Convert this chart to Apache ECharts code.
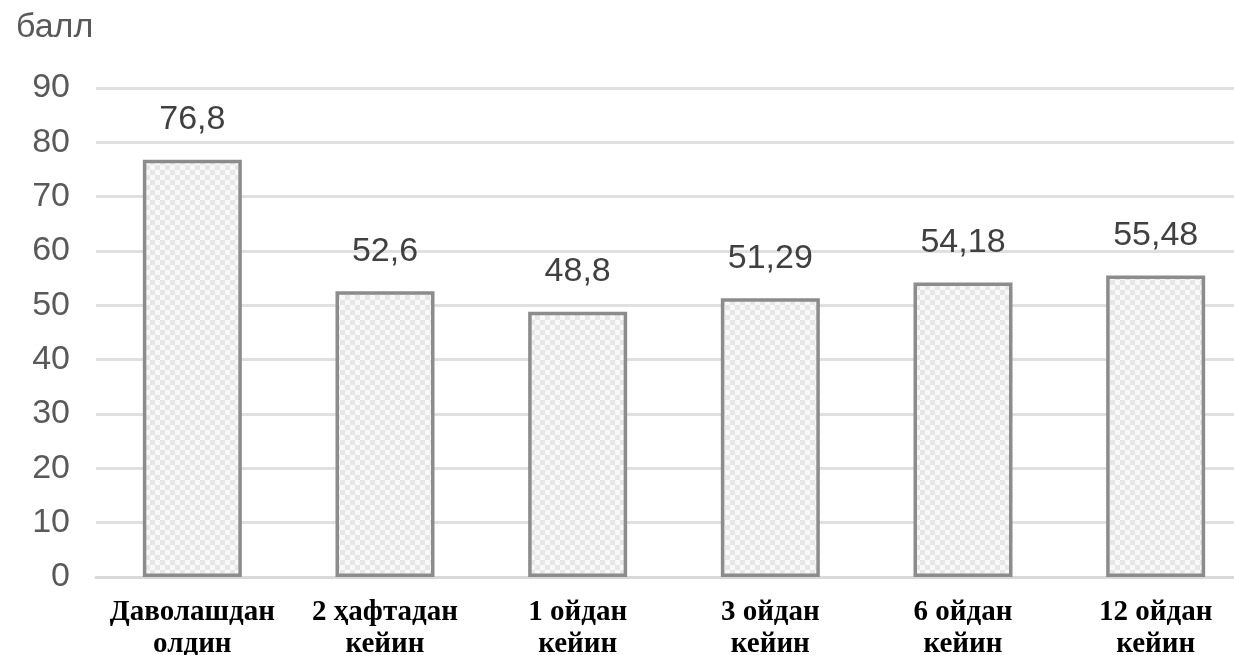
<!DOCTYPE html>
<html>
<head>
<meta charset="utf-8">
<script src="https://cdn.jsdelivr.net/npm/echarts@6/dist/echarts.min.js"></script>
<style>
html,body{margin:0;padding:0;background:#fff;}
#chart{width:1234px;height:655px;}
</style>
</head>
<body>
<div id="chart"></div>
<script>
const categories = ['Даволашдан\nолдин', '2 ҳафтадан\nкейин', '1 ойдан\nкейин', '3 ойдан\nкейин', '6 ойдан\nкейин', '12 ойдан\nкейин'];
const values = [76.8, 52.6, 48.8, 51.29, 54.18, 55.48];
const valueLabels = ['76,8', '52,6', '48,8', '51,29', '54,18', '55,48'];
const yTicks = [0, 10, 20, 30, 40, 50, 60, 70, 80, 90];
const yUnit = 'балл';

// light checkered fill
const pat = document.createElement('canvas');
pat.width = 10; pat.height = 10;
const pc = pat.getContext('2d');
pc.fillStyle = '#f8f8f8'; pc.fillRect(0, 0, 10, 10);
pc.fillStyle = '#e6e6e6';
pc.fillRect(0, 0, 5, 5); pc.fillRect(5, 5, 5, 5);

const chart = echarts.init(document.getElementById('chart'));
chart.setOption({
  animation: false,
  backgroundColor: '#fff',
  title: {
    text: yUnit, left: 11, top: 6,
    textStyle: {fontFamily: 'Liberation Sans', fontWeight: 'normal', fontSize: 34, color: '#595959'}
  },
  grid: {left: 96, width: 1156, top: 88, bottom: 78, containLabel: false, outerBoundsMode: 'none'},
  xAxis: {
    type: 'category',
    data: categories,
    axisLine: {show: true, lineStyle: {color: '#d9d9d9', width: 3}},
    axisTick: {show: false},
    axisLabel: {
      margin: 20, interval: 0,
      fontFamily: 'Liberation Serif', fontWeight: 'bold', fontSize: 29, color: '#000',
      lineHeight: 32
    }
  },
  yAxis: {
    type: 'value', min: yTicks[0], max: yTicks[yTicks.length - 1], interval: 10,
    axisLine: {show: false}, axisTick: {show: false},
    splitLine: {lineStyle: {color: '#e0e0e0', width: 3}},
    axisLabel: {margin: 26, fontFamily: 'Liberation Sans', fontSize: 34, color: '#595959'}
  },
  series: [{
    type: 'bar',
    data: values,
    barWidth: 99,
    itemStyle: {color: {image: pat, repeat: 'repeat'}, borderColor: '#8c8c8c', borderWidth: 3.5},
    label: {
      show: true, position: 'top', distance: 23,
      formatter: p => valueLabels[p.dataIndex],
      fontFamily: 'Liberation Sans', fontSize: 34, color: '#404040'
    }
  }]
});
</script>
</body>
</html>
